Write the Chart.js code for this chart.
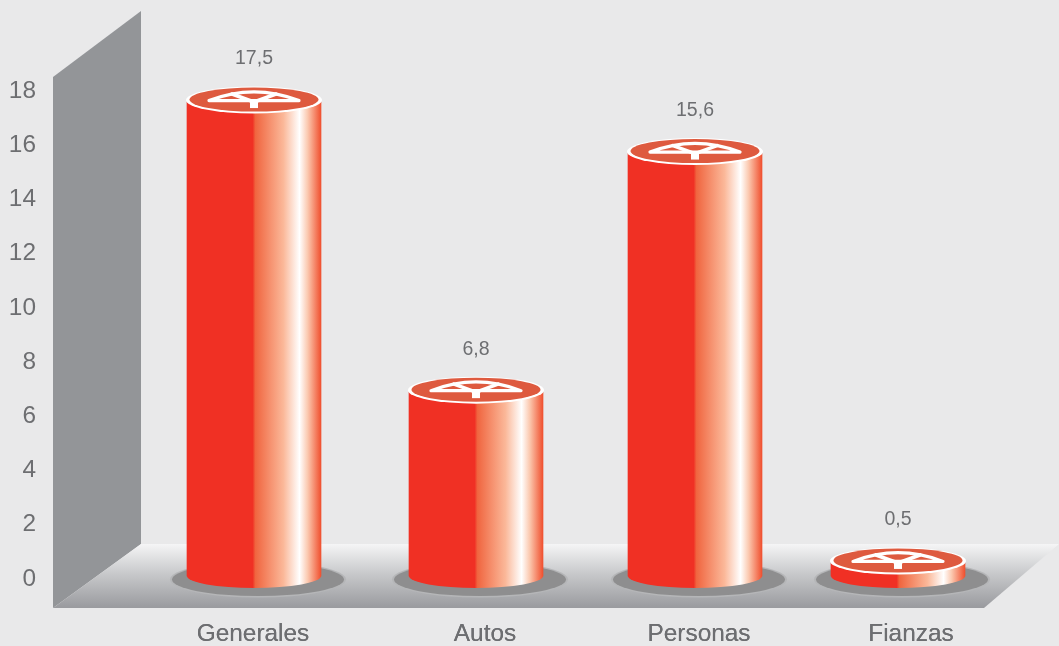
<!DOCTYPE html>
<html>
<head>
<meta charset="utf-8">
<title>Generales, Autos, Personas, Fianzas</title>
<script src="https://cdn.jsdelivr.net/npm/chart.js@4"></script>
<style>
    html, body { margin: 0; padding: 0; background: #e9e9ea; }
    canvas { display: block; }
</style>
</head>
<body>
<canvas id="cylinderChart" width="1059" height="646"></canvas>
<script>
const categories = ['Generales', 'Autos', 'Personas', 'Fianzas'];
const values = [17.5, 6.8, 15.6, 0.5];
const valueLabels = ['17,5', '6,8', '15,6', '0,5'];
const yTicks = [0, 2, 4, 6, 8, 10, 12, 14, 16, 18];

const TEXT = '#6d6e71';
const FONT = '"Liberation Sans", Arial, sans-serif';
const BAR_WIDTH = 134;
// the columns and their names do not sit exactly on the even category grid
const barShift = [0, 8, 13, 2];
const labelShift = [-1, 17, 17, 15];

function barCenter(chart, i) {
    return chart.scales.x.getPixelForValue(i) + barShift[i];
}

function sideGradient(ctx, cx) {
    const left = cx - BAR_WIDTH / 2;
    const g = ctx.createLinearGradient(left, 0, left + BAR_WIDTH, 0);
    g.addColorStop(0, '#f03024');
    g.addColorStop(0.49, '#f03024');
    g.addColorStop(0.51, '#f0653f');
    g.addColorStop(0.72, '#fbb899');
    g.addColorStop(0.84, '#ffffff');
    g.addColorStop(0.9, '#fbc9b0');
    g.addColorStop(1, '#f0502f');
    return g;
}

function ellipse(ctx, x, y, rx, ry) {
    ctx.beginPath();
    ctx.ellipse(x, y, rx, ry, 0, 0, Math.PI * 2);
}

// back wall and floor of the 3d box
function drawBox(ctx) {
    ctx.fillStyle = '#939598';
    ctx.beginPath();
    ctx.moveTo(53, 77);
    ctx.lineTo(141, 11);
    ctx.lineTo(141, 544);
    ctx.lineTo(53, 608);
    ctx.closePath();
    ctx.fill();

    const floor = ctx.createLinearGradient(0, 544, 0, 608);
    floor.addColorStop(0, '#f5f5f6');
    floor.addColorStop(0.45, '#c9cacc');
    floor.addColorStop(1, '#999a9e');
    ctx.fillStyle = floor;
    ctx.beginPath();
    ctx.moveTo(53, 608);
    ctx.lineTo(141, 544);
    ctx.lineTo(1059, 544);
    ctx.lineTo(984, 608);
    ctx.closePath();
    ctx.fill();
}

// white wheel emblem on the lid
function drawEmblem(ctx, x, y) {
    ctx.strokeStyle = '#ffffff';
    ctx.lineWidth = 3.2;
    ctx.lineJoin = 'round';
    ctx.lineCap = 'round';
    ctx.beginPath();
    ctx.moveTo(x - 45, y + 0.5);
    ctx.quadraticCurveTo(x, y - 17, x + 45, y + 0.5);
    ctx.closePath();
    ctx.stroke();

    ctx.lineWidth = 3.6;
    ctx.beginPath();
    ctx.moveTo(x - 22, y - 6);
    ctx.lineTo(x, y + 2);
    ctx.lineTo(x + 22, y - 6);
    ctx.stroke();

    ctx.fillStyle = '#ffffff';
    ctx.fillRect(x - 4, y, 8, 8);
}

const cylinderPlugin = {
    id: 'cylinders',
    afterDatasetsUpdate(chart) {
        chart.getDatasetMeta(0).data.forEach((bar, i) => {
            bar.x += barShift[i];
        });
    },
    beforeDatasetsDraw(chart) {
        const ctx = chart.ctx;
        const base = chart.scales.y.getPixelForValue(0);
        ctx.save();
        drawBox(ctx);
        values.forEach((v, i) => {
            const cx = barCenter(chart, i) + 4;
            ellipse(ctx, cx, base + 3, 88, 18);
            ctx.fillStyle = '#b5b6b8';
            ctx.fill();
            ellipse(ctx, cx, base + 3, 86, 16.5);
            ctx.fillStyle = '#8e8e8f';
            ctx.fill();
        });
        ctx.restore();

        // the axis names are painted before this hook, so bring them back over the floor
        chart.scales.x.drawLabels(chart.chartArea);
    },
    afterDatasetsDraw(chart) {
        const ctx = chart.ctx;
        const y = chart.scales.y;
        const base = y.getPixelForValue(0);
        ctx.save();
        values.forEach((v, i) => {
            const cx = barCenter(chart, i);
            const top = y.getPixelForValue(v) - 2;

            // rounded foot under the column
            ctx.fillStyle = sideGradient(ctx, cx);
            ctx.beginPath();
            ctx.ellipse(cx, base - 0.5, BAR_WIDTH / 2, 12, 0, 0, Math.PI);
            ctx.closePath();
            ctx.fill();

            // lid with its white rim
            ellipse(ctx, cx, top, 68, 13.5);
            ctx.fillStyle = '#ffffff';
            ctx.fill();
            ellipse(ctx, cx, top - 0.5, 64.5, 12);
            ctx.fillStyle = '#de5a3f';
            ctx.fill();
            drawEmblem(ctx, cx, top);

            ctx.fillStyle = TEXT;
            ctx.font = '19.5px ' + FONT;
            ctx.textAlign = 'center';
            ctx.textBaseline = 'middle';
            ctx.fillText(valueLabels[i], cx, top - 41);
        });
        ctx.restore();
    }
};

const chart = new Chart(document.getElementById('cylinderChart').getContext('2d'), {
    type: 'bar',
    data: {
        labels: categories,
        datasets: [{
            data: values,
            barThickness: BAR_WIDTH,
            borderWidth: 0,
            // options also get resolved once before the scales are laid out
            backgroundColor: c => {
                const cx = c.type === 'data' ? barCenter(c.chart, c.dataIndex) : NaN;
                return Number.isFinite(cx) ? sideGradient(c.chart.ctx, cx) : '#f03024';
            }
        }]
    },
    options: {
        responsive: false,
        animation: false,
        events: [],
        layout: { padding: { left: 0, right: 56, top: 88.5, bottom: 0 } },
        plugins: {
            legend: { display: false },
            tooltip: { enabled: false }
        },
        scales: {
            x: {
                grid: { display: false, drawTicks: false },
                border: { display: false },
                afterFit: s => { s.height = 69.5; },
                afterUpdate: s => {
                    // category names sit a little right of their columns
                    const pixelForValue = s.getPixelForValue.bind(s);
                    s.getPixelForTick = i => pixelForValue(s.ticks[i].value) + labelShift[i];
                },
                ticks: {
                    color: TEXT,
                    font: { family: FONT, size: 24.4 },
                    padding: 43,
                    autoSkip: false,
                    maxRotation: 0
                }
            },
            y: {
                min: 0,
                max: 18,
                grid: { display: false, drawTicks: false },
                border: { display: false },
                // the tick padding would otherwise also pad the plot top and bottom
                afterFit: s => {
                    s.width = 147;
                    s.paddingTop = 0;
                    s.paddingBottom = 0;
                },
                afterBuildTicks: s => { s.ticks = yTicks.map(value => ({ value })); },
                // tick numbers ride slightly below their levels
                afterUpdate: s => {
                    const pixelForValue = s.getPixelForValue.bind(s);
                    s.getPixelForTick = i => pixelForValue(s.ticks[i].value) + 2.5;
                },
                ticks: {
                    color: TEXT,
                    font: { family: FONT, size: 24.4 },
                    padding: 111
                }
            }
        }
    },
    plugins: [cylinderPlugin]
});
</script>
</body>
</html>
